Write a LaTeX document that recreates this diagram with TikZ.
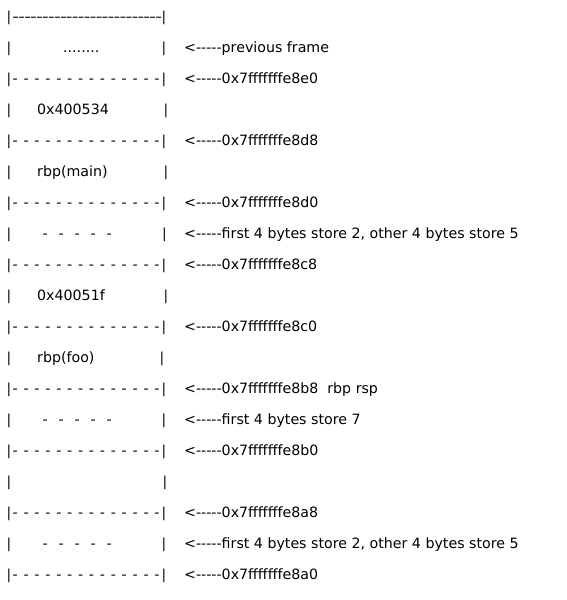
\documentclass[tikz,border=0pt]{standalone}
\usepackage{fontspec}
\setmainfont{DejaVu Sans}
\newcommand\solidline{\foreach \k in {1,...,25}{\makebox[5.96pt]{\scalebox{1.35}[1]{-}}}}
\newcommand\sepdashes{\foreach \k in {1,...,14}{\makebox[10.9pt]{-}}}
\newcommand\fivedashes{\foreach \k in {1,...,5}{\makebox[16pt]{-}}}
\newcommand\arr{<-{}-{}-{}-{}-{}}
\begin{document}
\begin{tikzpicture}[x=1pt,y=-1pt,
  txt/.style={inner sep=0pt,anchor=base west,font=\fontsize{14.2}{16}\selectfont},
  barc/.style={inner sep=0pt,anchor=base,font=\fontsize{13.7}{16}\selectfont}]
\useasboundingbox (0,0) rectangle (567,600);
% row baselines: 21 + 31*i
% row 0
\node[barc] (l0) at (9,21) {|};
\node[barc,anchor=base west] (s0) at (12.5,21) {\solidline};
\node[barc] (r0) at (164,21) {|};
% row 1
\node[barc] (l1) at (9,52) {|};
\node[txt] (t1) at (63,52) {........};
\node[barc] (r1) at (164,52) {|};
\node[txt] (a1) at (184,52) {\arr previous frame};
% row 2
\node[barc] (l2) at (9,83) {|};
\node[txt] (s2) at (9.6,83) {\sepdashes};
\node[barc] (r2) at (164,83) {|};
\node[txt] (a2) at (184,83) {\arr 0x7fffffffe8e0};
% row 3
\node[barc] (l3) at (9,114) {|};
\node[txt] (t3) at (37,114) {0x400534};
\node[barc] (r3) at (166,114) {|};
% row 4
\node[barc] (l4) at (9,145) {|};
\node[txt] (s4) at (9.6,145) {\sepdashes};
\node[barc] (r4) at (164,145) {|};
\node[txt] (a4) at (184,145) {\arr 0x7fffffffe8d8};
% row 5
\node[barc] (l5) at (9,176) {|};
\node[txt] (t5) at (37,176) {rbp(main)};
\node[barc] (r5) at (166,176) {|};
% row 6
\node[barc] (l6) at (9,207) {|};
\node[txt] (s6) at (9.6,207) {\sepdashes};
\node[barc] (r6) at (164,207) {|};
\node[txt] (a6) at (184,207) {\arr 0x7fffffffe8d0};
% row 7
\node[barc] (l7) at (9,238) {|};
\node[txt] (t7) at (37,238) {\fivedashes};
\node[barc] (r7) at (164.5,238) {|};
\node[txt] (a7) at (184,238) {\arr first 4 bytes store 2, other 4 bytes store 5};
% row 8
\node[barc] (l8) at (9,269) {|};
\node[txt] (s8) at (9.6,269) {\sepdashes};
\node[barc] (r8) at (164,269) {|};
\node[txt] (a8) at (184,269) {\arr 0x7fffffffe8c8};
% row 9
\node[barc] (l9) at (9,300) {|};
\node[txt] (t9) at (37,300) {0x40051f};
\node[barc] (r9) at (166,300) {|};
% row 10
\node[barc] (l10) at (9,331) {|};
\node[txt] (s10) at (9.6,331) {\sepdashes};
\node[barc] (r10) at (164,331) {|};
\node[txt] (a10) at (184,331) {\arr 0x7fffffffe8c0};
% row 11
\node[barc] (l11) at (9,362) {|};
\node[txt] (t11) at (37,362) {rbp(foo)};
\node[barc] (r11) at (162,362) {|};
% row 12
\node[barc] (l12) at (9,393) {|};
\node[txt] (s12) at (9.6,393) {\sepdashes};
\node[barc] (r12) at (164,393) {|};
\node[txt] (a12) at (184,393) {\arr 0x7fffffffe8b8\ \ rbp rsp};
% row 13
\node[barc] (l13) at (9,424) {|};
\node[txt] (t13) at (37,424) {\fivedashes};
\node[barc] (r13) at (164,424) {|};
\node[txt] (a13) at (184,424) {\arr first 4 bytes store 7};
% row 14
\node[barc] (l14) at (9,455) {|};
\node[txt] (s14) at (9.6,455) {\sepdashes};
\node[barc] (r14) at (164,455) {|};
\node[txt] (a14) at (184,455) {\arr 0x7fffffffe8b0};
% row 15
\node[barc] (l15) at (9,486) {|};
\node[barc] (r15) at (165,486) {|};
% row 16
\node[barc] (l16) at (9,517) {|};
\node[txt] (s16) at (9.6,517) {\sepdashes};
\node[barc] (r16) at (164,517) {|};
\node[txt] (a16) at (184,517) {\arr 0x7fffffffe8a8};
% row 17
\node[barc] (l17) at (9,548) {|};
\node[txt] (t17) at (37,548) {\fivedashes};
\node[barc] (r17) at (164,548) {|};
\node[txt] (a17) at (184,548) {\arr first 4 bytes store 2, other 4 bytes store 5};
% row 18
\node[barc] (l18) at (9,579) {|};
\node[txt] (s18) at (9.6,579) {\sepdashes};
\node[barc] (r18) at (164,579) {|};
\node[txt] (a18) at (184,579) {\arr 0x7fffffffe8a0};
\end{tikzpicture}
\end{document}
